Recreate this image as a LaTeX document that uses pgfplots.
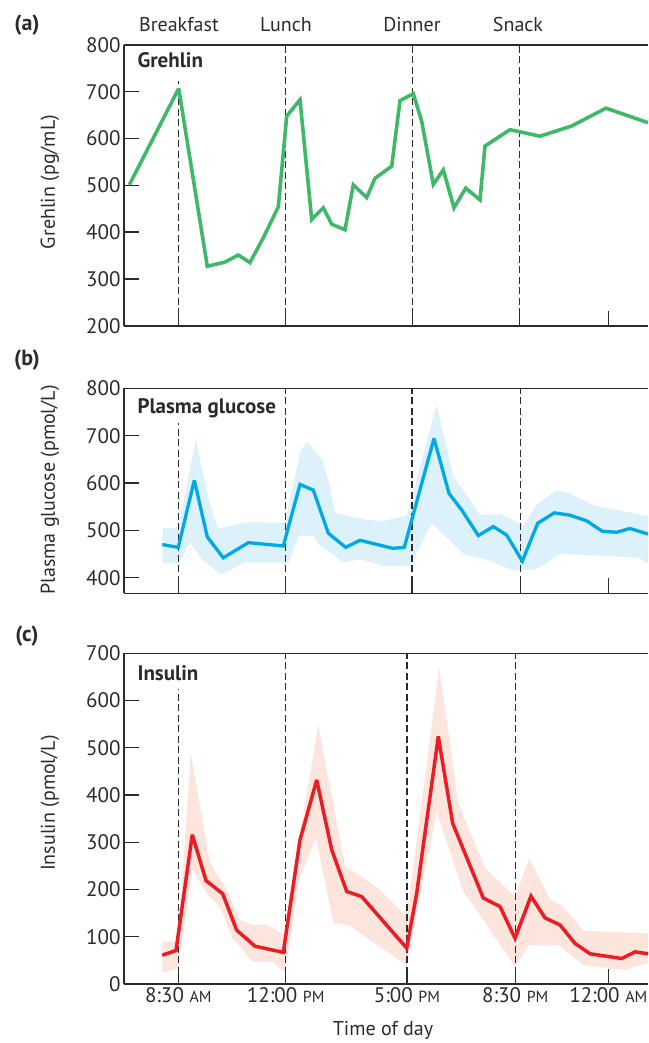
\documentclass[border=0pt]{standalone}
\usepackage{pgfplots}
\pgfplotsset{compat=1.18}
\usepackage{fontspec}
\setmainfont{PT Sans}
\definecolor{ggreen}{HTML}{40B86A}
\definecolor{gblue}{HTML}{00A9E4}
\definecolor{gblueband}{HTML}{DDF1FA}
\definecolor{ired}{HTML}{EA1D25}
\definecolor{iredband}{HTML}{FCE5DD}
\definecolor{axgray}{HTML}{2B2B2B}
\newcommand{\fs}{\fontsize{20}{24}\selectfont}
\newcommand{\smc}[1]{{\fontsize{16}{18}\selectfont #1}}
\begin{document}
\begin{tikzpicture}
\useasboundingbox (0pt,0pt) rectangle (648pt,-1043pt);
\pgfplotsset{
  panel/.style={
    scale only axis, width=524pt, xmin=124, xmax=648,
    axis x line=box, axis y line=left,
    axis line style={-, axgray, line width=1.6pt},
    every tick/.style={axgray, line width=1.4pt},
    tick align=inside, major tick length=15pt,
    xtick pos=left, ytick pos=left,
    tick label style={font=\fontsize{21}{24}\selectfont, text=axgray},
    /pgf/number format/assume math mode=true,
    anchor=south west,
  },
  dashl/.style={axgray, line width=1.5pt, dash pattern=on 7pt off 3.5pt, forget plot},
}
% ---------- (a) Ghrelin ----------
\begin{axis}[panel, at={(124pt,-325.7pt)}, height=280.7pt,
  ymin=200, ymax=800, ytick={200,300,...,800},
  xtick={178.7,285.7,412.7,519.3,608.3}, xticklabels={}]
\addplot[dashl] coordinates {(178.7,200) (178.7,724)};
\addplot[dashl] coordinates {(285.7,200) (285.7,800)};
\addplot[dashl] coordinates {(412.7,200) (412.7,800)};
\addplot[dashl] coordinates {(519.3,200) (519.3,800)};
\addplot[ggreen, line width=3.6pt, line join=miter, miter limit=3] coordinates {
(129.3,501) (178.7,707) (207.3,327) (225,336) (238.3,351) (250,335) (263.3,388) (278.3,454)
(286.7,648) (300,683) (311.7,427) (323.3,452) (331.7,417) (345,405) (353.3,501) (366.7,474)
(375,515) (391.7,541) (400,681) (413.3,696) (421.7,637) (433.3,502) (443.3,533) (454,452)
(465.7,494) (480,469) (485,584) (510,619) (540,605) (571.7,627) (606,665) (648,634)};
\end{axis}
% ---------- (b) Glucose ----------
\begin{axis}[panel, at={(124pt,-593.3pt)}, height=205pt,
  ymin=367, ymax=800, ytick={400,500,...,800},
  xtick={178.3,285.7,412,520.3,608.3}, xticklabels={}]
\addplot[fill=gblueband, draw=none, forget plot] coordinates {
(162.3,505) (178.3,505) (195.7,691) (210,553) (218.3,504) (246.7,517) (285,516) (300,664)
(306.7,687) (322.3,649) (330,592) (335,537) (366.7,522) (383.3,520) (406.7,531) (436.7,765)
(453.3,613) (471.7,560) (480,532) (500,534) (520,515) (523.3,508) (536.7,555) (556.7,585)
(570,578) (593.3,553) (616.7,543) (648,530)
(648,430) (638.3,442) (603.3,446) (560,450) (536.7,418) (520,415) (510,418) (483.3,441)
(465,448) (431.7,515) (410,425) (383.3,425) (360,439) (343.3,432) (326.7,458) (320,467)
(313.3,488) (299.3,489) (288.3,432) (245,432) (220.7,406) (201.7,439) (190,475) (178.3,429)
(162.3,432)} -- cycle;
\addplot[dashl] coordinates {(178.3,367) (178.3,727)};
\addplot[dashl] coordinates {(285.7,367) (285.7,800)};
\addplot[dashl] coordinates {(412,367) (412,800)};
\addplot[dashl] coordinates {(520.3,367) (520.3,800)};
\addplot[gblue, line width=3.3pt, line join=miter, miter limit=3] coordinates {
(162.3,470) (178.3,464) (194.3,606) (207.3,486) (223.3,442) (248.3,474) (283.3,467) (300,597)
(313.3,585) (328.3,494) (345.7,464) (360,479) (392.7,462) (404.3,464) (434,694) (449,578)
(461.7,543) (478.3,489) (493.3,508) (506.7,490) (522.3,435) (537.7,515) (554.3,537) (570,532)
(586.7,520) (602.3,498) (616.7,496) (630,504) (648,492)};
\end{axis}
% ---------- (c) Insulin ----------
\begin{axis}[panel, at={(124pt,-984pt)}, height=330.7pt,
  ymin=0, ymax=700, ytick={0,100,...,700},
  xtick={178.3,285.7,407,515.3,608.3},
  xticklabels={8:30 \smc{AM}, 12:00 \smc{PM}, 5:00 \smc{PM}, 8:30 \smc{PM}, 12:00 \smc{AM}}]
\addplot[fill=iredband, draw=none, forget plot] coordinates {
(162.3,90) (178.3,90) (190.7,489) (210,256) (225,206) (240,136) (253.3,124) (266,126)
(283.3,104) (318.3,549) (345,249) (366.7,220) (380,199) (406.7,143) (439.3,669) (458.3,383)
(485,245) (515,185) (529.3,266) (550,179) (561.7,167) (583.3,113) (648,107)
(648,44) (625,30) (583.3,40) (558.3,83) (529.3,83) (515,37) (486.7,125) (463.3,196)
(436.7,365) (406.7,40) (370,93) (350,123) (333.3,129) (316,309) (299.3,220) (285,24)
(272.7,47) (252.7,47) (232.7,97) (220,164) (207.3,189) (192.7,242) (178.3,33) (162.3,24)} -- cycle;
\addplot[dashl] coordinates {(178.3,0) (178.3,625)};
\addplot[dashl] coordinates {(285.7,0) (285.7,700)};
\addplot[dashl] coordinates {(407,0) (407,700)};
\addplot[dashl] coordinates {(515.3,0) (515.3,700)};
\addplot[ired, line width=3.5pt, line join=miter, miter limit=3] coordinates {
(162.3,61) (176,71) (192.3,316) (206,219) (222.7,191) (236.7,114) (255,80) (283.3,67)
(300,305) (316.7,432) (331.7,284) (346.7,196) (361.7,185) (406.7,76) (416.7,192) (438.3,524)
(452.7,340) (483.3,182) (500,164) (515,97) (531,186) (545,140) (560,125) (575,86)
(590,64) (621.7,54) (635,68) (648,64)};
\end{axis}
% ---------- texts ----------
\node[font=\fontsize{22}{24}\selectfont\bfseries, text=axgray] at (27pt,-25pt) {(a)};
\node[font=\fontsize{22}{24}\selectfont\bfseries, text=axgray] at (27pt,-360pt) {(b)};
\node[font=\fontsize{22}{24}\selectfont\bfseries, text=axgray] at (27pt,-636pt) {(c)};
\node[font=\fs, text=axgray] at (179pt,-25pt) {Breakfast};
\node[font=\fs, text=axgray] at (286pt,-25pt) {Lunch};
\node[font=\fs, text=axgray] at (412pt,-25pt) {Dinner};
\node[font=\fs, text=axgray] at (518pt,-25pt) {Snack};
\node[font=\fontsize{21}{24}\selectfont\bfseries, text=axgray, anchor=west] at (134pt,-60pt) {Grehlin};
\node[font=\fontsize{21}{24}\selectfont\bfseries, text=axgray, anchor=west] at (134pt,-408pt) {Plasma glucose};
\node[font=\fontsize{21}{24}\selectfont\bfseries, text=axgray, anchor=west] at (134pt,-673pt) {Insulin};
\node[font=\fs, text=axgray, rotate=90] at (50pt,-182pt) {Grehlin (pg/mL)};
\node[font=\fs, text=axgray, rotate=90] at (50pt,-490pt) {Plasma glucose (pmol/L)};
\node[font=\fs, text=axgray, rotate=90] at (50pt,-803pt) {Insulin (pmol/L)};
\node[font=\fs, text=axgray] at (383pt,-1030pt) {Time of day};
\end{tikzpicture}
\end{document}
